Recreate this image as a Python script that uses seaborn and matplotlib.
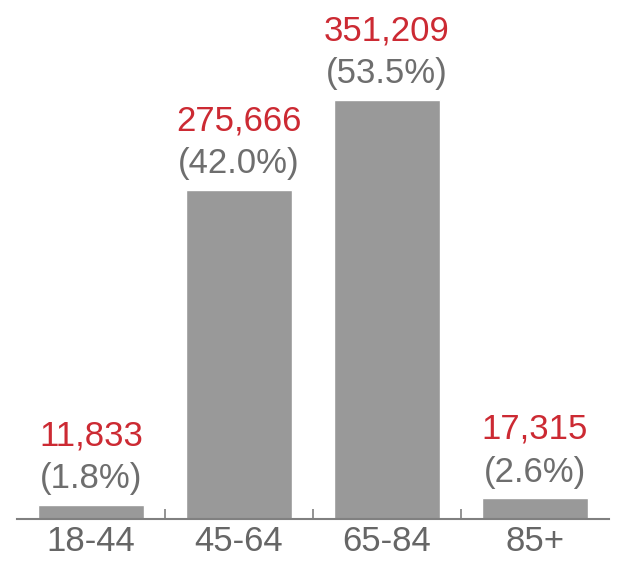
import matplotlib
matplotlib.use("Agg")
import matplotlib.pyplot as plt
import seaborn as sns
import pandas as pd

categories = ["18-44", "45-64", "65-84", "85+"]
counts = [11833, 275666, 351209, 17315]
percents = ["(1.8%)", "(42.0%)", "(53.5%)", "(2.6%)"]

sns.set_style("white")
plt.rcParams["font.family"] = ["Liberation Sans", "DejaVu Sans"]

df = pd.DataFrame({"age": categories, "count": counts})

fig = plt.figure(figsize=(6.17, 5.62), dpi=100)
ax = fig.add_axes([17/617, 43/562, 592/617, 519/562])
sns.barplot(data=df, x="age", y="count", color="#999999", width=0.72,
            saturation=1, ax=ax)

ax.set_xlim(-0.5, 3.5)
ax.set_ylim(0, 351209 * 519 / 419)

for i, (c, p) in enumerate(zip(counts, percents)):
    ax.annotate(p, (i, c), xytext=(0, 7), textcoords="offset points",
                ha="center", va="bottom", fontsize=25, color="#6e6e6e",
                annotation_clip=False)
    ax.annotate(f"{c:,}", (i, c), xytext=(0, 38), textcoords="offset points",
                ha="center", va="bottom", fontsize=25, color="#cc2a33",
                annotation_clip=False)

for s in ["top", "right", "left"]:
    ax.spines[s].set_visible(False)
ax.spines["bottom"].set_color("#808080")
ax.spines["bottom"].set_linewidth(1.5)

ax.set_xlabel("")
ax.set_ylabel("")
ax.set_yticks([])
ax.tick_params(axis="x", which="major", length=0, labelsize=25,
               labelcolor="#666666", pad=4)
ax.set_xticks([0.5, 1.5, 2.5], minor=True)
ax.tick_params(axis="x", which="minor", direction="in", length=7,
               width=1.2, color="#808080", bottom=True)

fig.savefig("out.png", dpi=100, facecolor="white")
